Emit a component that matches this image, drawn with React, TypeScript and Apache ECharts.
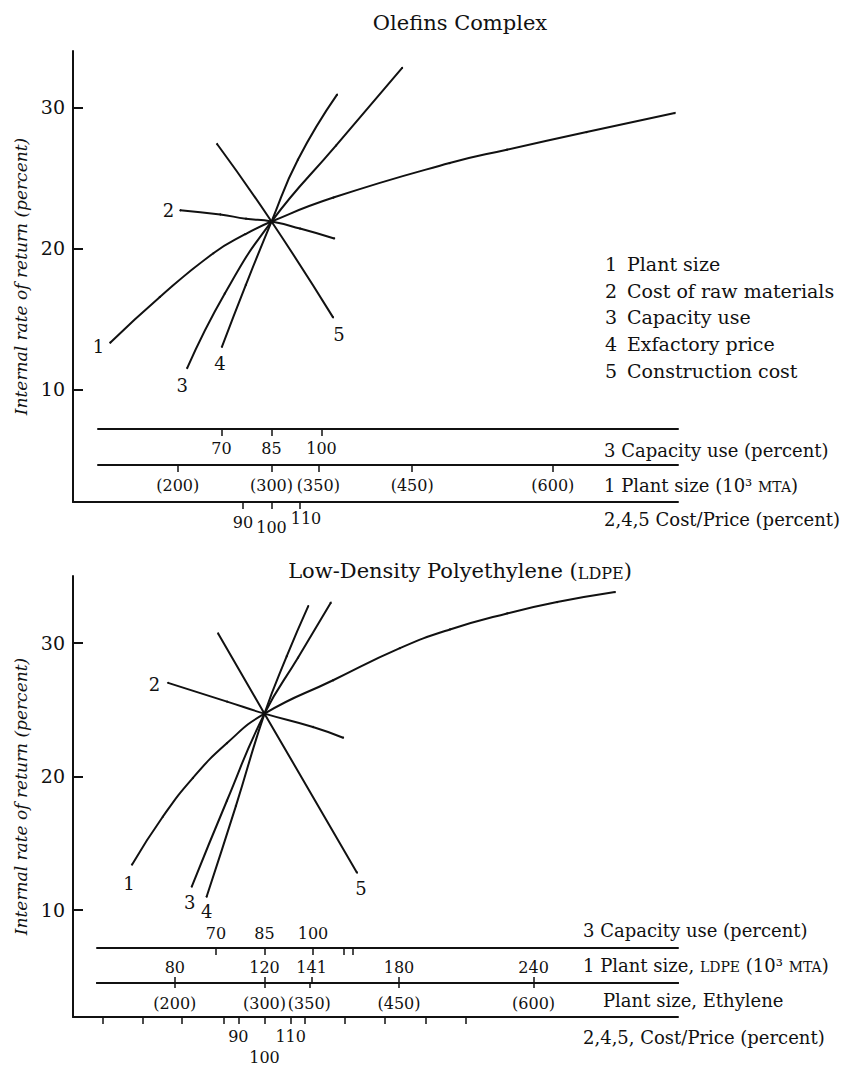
import React, { useEffect, useRef } from "react";
import * as echarts from "echarts";

// ---------------- Olefins Complex (top panel) ----------------
// 1 Plant size (10^3 MTA) vs IRR
const olefinsPlantSize = [128, 181, 238, 272, 300, 366, 490, 551, 636, 730];
const olefinsPlantIRR = [13.3, 16.55, 19.65, 21.0, 21.9, 23.6, 26.05, 27.0, 28.25, 29.6];
// 2 Cost of raw materials (percent)
const olefinsRawCost = [68, 82, 91, 100, 110, 122];
const olefinsRawIRR = [22.7, 22.4, 22.1, 21.9, 21.4, 20.7];
// 3 Capacity use (percent)
const olefinsCapacity = [59.7, 71, 85, 104.4, 124.2];
const olefinsCapacityIRR = [11.5, 16.8, 21.9, 27.3, 32.8];
// 4 Exfactory price (percent)
const olefinsPrice = [82.6, 91, 100, 109.3, 123];
const olefinsPriceIRR = [13.0, 17.4, 21.9, 26.3, 30.9];
// 5 Construction cost (percent)
const olefinsConstr = [80.9, 100, 121.6];
const olefinsConstrIRR = [27.4, 21.9, 15.1];

const olefinsCapacityTicks = [70, 85, 100];
const olefinsPlantTicks = [200, 300, 350, 450, 600];
const olefinsCostTicks = [90, 100, 110];

const legendNumbers = ["1", "2", "3", "4", "5"];
const legendLabels = ["Plant size", "Cost of raw materials", "Capacity use", "Exfactory price", "Construction cost"];

// ---------------- Low-Density Polyethylene (bottom panel) ----------------
const ldpePlantSize = [60.9, 74.7, 88.1, 103.3, 120, 150.6, 180.4, 202.7, 228.2, 250.5, 276.3];
const ldpePlantIRR = [13.4, 17.0, 19.9, 22.5, 24.7, 27.2, 29.6, 31.0, 32.2, 33.05, 33.8];
const ldpeRawCost = [63.2, 85.7, 100, 118.5, 130];
const ldpeRawIRR = [27.0, 25.6, 24.7, 23.7, 22.9];
const ldpeCapacity = [62.5, 73.4, 85, 95.4, 105.5];
const ldpeCapacityIRR = [11.75, 18.2, 24.7, 28.9, 33.0];
const ldpePrice = [77.9, 89.1, 100, 108.5, 116.7];
const ldpePriceIRR = [11.0, 17.8, 24.7, 29.0, 32.75];
const ldpeConstr = [82.3, 100, 135.3];
const ldpeConstrIRR = [30.7, 24.7, 12.8];

const ldpeCapacityTicks = [70, 85, 100, 109.6, 112.4];
const ldpeCapacityLabels = [70, 85, 100];
const ldpeSizeTicks = [80, 120, 141, 180, 240];
const ethyleneSizeTicks = [200, 300, 350, 450, 600];
const ldpeCostMinorTicks = [38.2, 53.7, 68.4, 84.3, 115.2, 130.7, 146.0, 161.5, 176.9];
const ldpeCostTicks = [90, 100, 110];

const irrTicks = [10, 20, 30];

const topTitle = "Olefins Complex";
const bottomTitle = "Low-Density Polyethylene ({sc|LDPE})";
const topAxisTitles = ["3 Capacity use (percent)", "1 Plant size (10³ {sc|MTA})", "2,4,5 Cost/Price (percent)"];
const bottomAxisTitles = [
  "3 Capacity use (percent)",
  "1 Plant size, {sc|LDPE} (10³ {sc|MTA})",
  "Plant size, Ethylene",
  "2,4,5, Cost/Price (percent)",
];

// ---------------- layout helpers ----------------
const INK = "#111";
const FONT = "DejaVu Serif";

function axisRange(anchorValue: number, anchorPx: number, pxPerUnit: number, leftPx: number, rightPx: number) {
  return {
    min: anchorValue - (anchorPx - leftPx) / pxPerUnit,
    max: anchorValue + (rightPx - anchorPx) / pxPerUnit,
  };
}

type XOpts = {
  gridIndex: number;
  range: { min: number; max: number };
  show?: boolean;
  offset?: number;
  ticks?: number[];
  labels?: number[];
  tickInside?: boolean;
  labelInside?: boolean;
  tickLen?: number;
  margin?: number;
  formatter?: (v: number) => string;
  rich?: any;
};

function xAxis(o: XOpts) {
  return {
    type: "value",
    gridIndex: o.gridIndex,
    position: "bottom",
    show: o.show !== false,
    offset: o.offset || 0,
    min: o.range.min,
    max: o.range.max,
    splitLine: { show: false },
    axisLine: { show: true, onZero: false, lineStyle: { color: INK, width: 2 } },
    axisTick: {
      show: !!o.ticks,
      customValues: o.ticks,
      inside: !!o.tickInside,
      length: o.tickLen || 7,
      lineStyle: { color: INK, width: 1.5 },
    },
    axisLabel: {
      show: !!o.labels,
      customValues: o.labels,
      inside: !!o.labelInside,
      margin: o.margin || 8,
      color: INK,
      fontFamily: FONT,
      fontSize: 16,
      formatter: o.formatter,
      rich: o.rich,
    },
  };
}

function yAxis(gridIndex: number, min: number, max: number, named: boolean) {
  return {
    type: "value",
    gridIndex,
    show: named,
    min,
    max,
    name: named ? "Internal rate of return (percent)" : "",
    nameLocation: "middle",
    nameRotate: 90,
    nameGap: 42,
    nameTextStyle: { color: INK, fontFamily: FONT, fontStyle: "italic", fontSize: 17 },
    splitLine: { show: false },
    axisLine: { show: true, onZero: false, lineStyle: { color: INK, width: 2 } },
    axisTick: { show: true, inside: true, length: 10, customValues: irrTicks, lineStyle: { color: INK, width: 2 } },
    axisLabel: { show: true, customValues: irrTicks, margin: 8, color: INK, fontFamily: FONT, fontSize: 19 },
  };
}

function curve(
  num: number,
  xs: number[],
  ys: number[],
  xAxisIndex: number,
  yAxisIndex: number,
  labelIdx: number,
  position: string,
  offset: number[]
) {
  return {
    type: "line",
    xAxisIndex,
    yAxisIndex,
    smooth: 0.5,
    symbol: "circle",
    symbolSize: 2,
    showSymbol: true,
    silent: true,
    lineStyle: { color: INK, width: 2 },
    itemStyle: { color: INK },
    emphasis: { disabled: true },
    data: xs.map((x, i) =>
      i === labelIdx
        ? {
            value: [x, ys[i]],
            label: {
              show: true,
              formatter: String(num),
              position,
              offset,
              distance: 5,
              color: INK,
              fontFamily: FONT,
              fontSize: 18,
            },
          }
        : [x, ys[i]]
    ),
  };
}

function txt(x: number, y: number, text: string, fontSize: number, align = "left", scSize = 14) {
  return {
    type: "text",
    x,
    y,
    silent: true,
    style: {
      text,
      fill: INK,
      fontFamily: FONT,
      fontSize,
      align,
      verticalAlign: "middle",
      rich: { sc: { fontFamily: FONT, fontSize: scSize, fill: INK, verticalAlign: "bottom" } },
    },
  };
}

function buildOption() {
  // panel geometry (pixels)
  const L = 73;
  const R = 678;
  const topPivot = 271.5;
  const botPivot = 264.5;

  const topCostRich = {
    dn: { padding: [4, 0, 0, 0], fontFamily: FONT, fontSize: 16, color: INK },
    lo: { padding: [9, 0, 0, 0], fontFamily: FONT, fontSize: 16, color: INK },
    sh: { padding: [0, 0, 0, 12], fontFamily: FONT, fontSize: 16, color: INK },
  };
  const botCostRich = {
    lo: { padding: [21, 0, 0, 0], fontFamily: FONT, fontSize: 16, color: INK },
    n: { fontFamily: FONT, fontSize: 16, color: INK },
  };

  const xAxes = [
    // 0 top cost/price (frame)
    xAxis({
      gridIndex: 0,
      range: axisRange(100, topPivot, 2.85, L, R),
      ticks: olefinsCostTicks,
      labels: olefinsCostTicks,
      margin: 8,
      formatter: (v: number) => {
        const r = Math.round(v);
        return r === 100 ? "{lo|100}" : r === 110 ? "{sh|110}" : "{dn|" + r + "}";
      },
      rich: topCostRich,
    }),
    // 1 top plant size (hidden, for curve 1)
    xAxis({ gridIndex: 0, show: false, range: axisRange(300, topPivot, 0.9378, L, R) }),
    // 2 top capacity (hidden, for curve 3)
    xAxis({ gridIndex: 0, show: false, range: axisRange(85, topPivot, 3.333, L, R) }),
    // 3 top capacity scale line
    xAxis({
      gridIndex: 2,
      range: axisRange(85, topPivot, 3.333, 98, R),
      ticks: olefinsCapacityTicks,
      labels: olefinsCapacityTicks,
      margin: 11,
    }),
    // 4 top plant size scale line
    xAxis({
      gridIndex: 2,
      offset: 36,
      range: axisRange(300, topPivot, 0.9378, 98, R),
      ticks: olefinsPlantTicks,
      labels: olefinsPlantTicks,
      margin: 12,
      formatter: (v: number) => "(" + Math.round(v) + ")",
    }),
    // 5 bottom cost/price (frame)
    xAxis({
      gridIndex: 1,
      range: axisRange(100, botPivot, 2.62, L, R),
      ticks: [...ldpeCostMinorTicks, ...ldpeCostTicks],
      labels: ldpeCostTicks,
      margin: 11,
      formatter: (v: number) => {
        const r = Math.round(v);
        return r === 100 ? "{lo|100}" : "{n|" + r + "}";
      },
      rich: botCostRich,
    }),
    // 6 bottom LDPE size (hidden, for curve 1)
    xAxis({ gridIndex: 1, show: false, range: axisRange(120, botPivot, 2.242, L, R) }),
    // 7 bottom capacity (hidden, for curve 3)
    xAxis({ gridIndex: 1, show: false, range: axisRange(85, botPivot, 3.233, L, R) }),
    // 8 bottom capacity scale line
    xAxis({
      gridIndex: 3,
      range: axisRange(85, botPivot, 3.233, 97, R),
      ticks: ldpeCapacityTicks,
      labels: ldpeCapacityLabels,
      labelInside: true,
      margin: 7,
    }),
    // 9 bottom LDPE size scale (labels above)
    xAxis({
      gridIndex: 3,
      offset: 35,
      range: axisRange(120, botPivot, 2.242, 97, R),
      ticks: ldpeSizeTicks,
      labels: ldpeSizeTicks,
      tickInside: true,
      labelInside: true,
      tickLen: 6,
      margin: 8,
    }),
    // 10 bottom ethylene size scale (labels below)
    xAxis({
      gridIndex: 3,
      offset: 35,
      range: axisRange(300, botPivot, 0.8968, 97, R),
      ticks: ethyleneSizeTicks,
      labels: ethyleneSizeTicks,
      tickLen: 5,
      margin: 12,
      formatter: (v: number) => "(" + Math.round(v) + ")",
    }),
  ];

  const yAxes = [
    yAxis(0, 2, 34, true),
    yAxis(1, 2, 35, true),
    { type: "value", gridIndex: 2, show: false, min: 0, max: 1, splitLine: { show: false } },
    { type: "value", gridIndex: 3, show: false, min: 0, max: 1, splitLine: { show: false } },
  ];

  const series = [
    curve(1, olefinsPlantSize, olefinsPlantIRR, 1, 0, 0, "left", [0, 4]),
    curve(2, olefinsRawCost, olefinsRawIRR, 0, 0, 0, "left", [0, 0]),
    curve(3, olefinsCapacity, olefinsCapacityIRR, 2, 0, 0, "bottom", [-5, 2]),
    curve(4, olefinsPrice, olefinsPriceIRR, 0, 0, 0, "bottom", [-2, 2]),
    curve(5, olefinsConstr, olefinsConstrIRR, 0, 0, olefinsConstr.length - 1, "bottom", [6, 2]),
    curve(1, ldpePlantSize, ldpePlantIRR, 6, 1, 0, "bottom", [-3, 4]),
    curve(2, ldpeRawCost, ldpeRawIRR, 5, 1, 0, "left", [-2, 2]),
    curve(3, ldpeCapacity, ldpeCapacityIRR, 7, 1, 0, "bottom", [-2, 1]),
    curve(4, ldpePrice, ldpePriceIRR, 5, 1, 0, "bottom", [0, 0]),
    curve(5, ldpeConstr, ldpeConstrIRR, 5, 1, ldpeConstr.length - 1, "bottom", [4, 1]),
  ];

  const graphics: any[] = [];
  graphics.push(txt(460, 23, topTitle, 21, "center"));
  graphics.push(txt(460, 571, bottomTitle, 21, "center", 16));
  legendNumbers.forEach((n, i) => {
    graphics.push(txt(605, 264 + i * 26.7, n, 19));
    graphics.push(txt(627, 264 + i * 26.7, legendLabels[i], 19));
  });
  const topY = [450, 485, 519];
  topAxisTitles.forEach((t, i) => graphics.push(txt(604, topY[i], t, 18)));
  const botY = [930, 965, 1000, 1037];
  const botX = [583, 583, 603, 583];
  bottomAxisTitles.forEach((t, i) => graphics.push(txt(botX[i], botY[i], t, 18)));

  return {
    animation: false,
    backgroundColor: "#fff",
    textStyle: { fontFamily: FONT },
    grid: [
      { left: L, width: R - L, top: 51, height: 451, outerBoundsMode: "none" },
      { left: L, width: R - L, top: 576, height: 441, outerBoundsMode: "none" },
      { left: 98, width: R - 98, top: 428, height: 1, outerBoundsMode: "none" },
      { left: 97, width: R - 97, top: 947, height: 1, outerBoundsMode: "none" },
    ],
    xAxis: xAxes,
    yAxis: yAxes,
    series,
    graphic: { elements: graphics },
  };
}

export default function App() {
  const ref = useRef<HTMLDivElement>(null);
  useEffect(() => {
    if (!ref.current) return;
    const chart = echarts.init(ref.current, null, { renderer: "svg" });
    chart.setOption(buildOption() as any);
    return () => chart.dispose();
  }, []);
  return (
    <div
      ref={ref}
      style={{ position: "absolute", left: 0, top: 0, width: 856, height: 1071, background: "#fff" }}
    />
  );
}
